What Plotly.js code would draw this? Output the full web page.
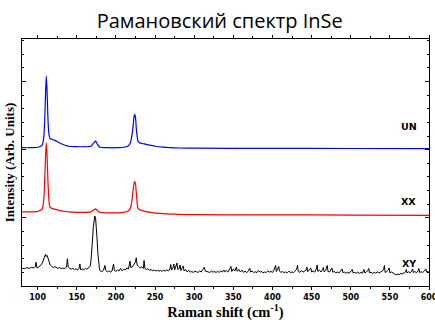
<!DOCTYPE html>
<html>
<head>
<meta charset="utf-8">
<script src="https://cdn.plot.ly/plotly-3.0.1.min.js"></script>
<style>html,body{margin:0;padding:0;background:#fff;}#chart{width:435px;height:324px;}</style>
</head>
<body>
<div id="chart"></div>
<script>
// Raman shift (cm^-1), intensity (arb. units, offset stacked)
const unSpectrum = [
[80,138],[90,138],[100,138.5],[104,139.5],[106,141],[108,150],[109,165],[110,190],[111,209.5],[112,195],[113,170],[114,155],[115,149],[116,147],[118,146.5],[120,146],[122,145.3],[125,144],[130,142],[135,140.5],[140,139.5],[150,139],[160,139],[165,139],[168,139.5],[170,141],[172,143],[174,144.5],[176,142],[178,139.5],[180,138.5],[190,138],[200,138],[210,138.5],[215,139.5],[218,142],[220,148],[222,160],[223,168],[224,171.2],[225,168],[226,158],[227,150],[228,145],[230,143],[235,142],[240,141],[245,140.3],[250,139.5],[260,138.5],[270,138],[280,137.7],[300,137.5],[400,137.3],[500,137.2],[600,137.1]
];
const xxSpectrum = [
[80,74],[90,74],[100,74.5],[104,75.5],[106,77],[108,88],[109,105],[110,128],[111,142.8],[112,130],[113,108],[114,90],[115,81],[116,78.5],[118,77.5],[120,77],[125,76],[130,75],[135,74.5],[140,74],[150,73.5],[160,73.5],[168,74],[170,75],[172,76],[174,77],[176,75.5],[178,74],[180,73.5],[190,73],[200,73],[210,73.5],[215,74.5],[218,77],[220,83],[222,96],[223,102],[224,104.5],[225,102],[226,93],[227,84],[228,78],[230,76],[235,75],[240,74],[245,73.5],[250,72.8],[260,72.3],[270,71.8],[280,71.5],[300,71.2],[400,71],[500,70.8],[600,70.5]
];
const xySpectrum = [
[80,17.8],[83,17.2],[86,18.3],[89,17.5],[92,18.6],[95,17.9],[97,19.5],[98,23.8],[99,18.2],[101,18.8],[103,20.2],[105,21.5],[107,25],[109,30],[110,31.5],[111,29.5],[112,30.5],[114,26],[116,21],[118,19.5],[120,18.5],[122,19.2],[124,18],[126,17.6],[128,18.4],[130,17.2],[132,17.9],[134,17.3],[136,18.2],[137,20],[138,27.2],[139,19],[141,17.5],[143,16.8],[145,17.6],[147,16.5],[149,17.2],[151,15.8],[153,17.8],[154,22],[155,16.2],[157,17],[159,16],[161,17.5],[163,16.8],[165,17.9],[167,19.5],[168,24],[169,32],[170,45],[171,58],[172,66],[173,69.8],[174,68],[175,60],[176,46],[177,32],[178,23],[179,17],[180,15],[182,14.2],[184,15.5],[186,20.5],[187,15.5],[189,14],[191,15.2],[193,13.8],[195,15],[197,22],[198,15.5],[200,14.5],[202,16],[204,15],[206,17.5],[208,15.2],[210,16.8],[212,16],[214,18],[216,17],[218,24.8],[219,18.5],[221,19],[223,21],[225,24],[226,28.2],[227,21],[229,19.5],[231,18],[233,19],[235,17.5],[236,25.5],[237,17.5],[239,16.5],[241,17.2],[243,15.8],[245,16.3],[247,15.2],[249,16],[251,15],[253,15.6],[255,14.8],[257,15.5],[259,14.6],[261,15.8],[263,14.9],[265,16],[267,15.2],[269,17],[270,21.5],[271,15.8],[273,18.5],[274,22],[275,16],[277,20],[278,23],[279,16.5],[281,17.5],[282,21],[283,15.5],[285,18.5],[286,20],[287,15],[289,16.5],[291,14],[293,15.8],[295,13.8],[297,14.5],[299,13.4],[301,15],[303,14.2],[305,13.6],[307,15.1],[309,14],[311,16.5],[313,18.8],[314,15],[316,14.8],[318,14],[320,13.5],[322,15],[324,13.8],[326,14.4],[328,13.5],[330,14.8],[332,13.4],[334,15.2],[336,14],[338,16],[339,14.2],[341,15.5],[343,13.8],[345,16.5],[347,19.5],[348,14.5],[350,17],[352,15],[354,19],[355,14.6],[357,16.5],[359,14],[361,15.8],[363,13.6],[365,14.8],[367,13.5],[369,14.6],[371,17.8],[372,14],[374,15],[376,13.4],[378,14.2],[380,13.3],[382,15.5],[384,13.8],[386,14.5],[388,13.2],[390,14],[392,13.5],[394,15],[396,13.8],[398,14.6],[400,13.5],[402,16],[404,20.5],[405,14.5],[407,18],[408,19.5],[409,14.8],[411,13.6],[413,14.5],[415,13.2],[417,14],[419,13.3],[421,14.8],[423,13.2],[425,14],[427,13.5],[429,15],[431,17],[432,20.5],[433,14.5],[435,13.6],[437,15.5],[439,13.8],[441,14.8],[443,16],[444,18.8],[445,14.2],[447,16],[449,18],[450,14],[452,15],[454,13.8],[456,17],[457,21],[458,14.5],[460,15.8],[462,14],[464,16.5],[465,18.5],[466,14.2],[468,15.5],[470,20.5],[471,14.5],[473,14],[475,16.5],[476,18],[477,13.8],[479,14.5],[481,13.2],[483,14],[485,13],[487,14.8],[489,17],[490,13.5],[492,13.8],[494,12.8],[496,13.6],[498,12.7],[500,14.2],[502,16.5],[503,13],[505,13.5],[507,12.8],[509,13.8],[511,12.6],[513,13.5],[515,12.8],[517,16.5],[518,13],[520,14],[522,15.5],[523,17.5],[524,13.2],[526,13.8],[528,12.6],[530,13.5],[532,12.8],[534,14],[536,13],[538,13.8],[540,14.5],[542,16],[543,20.5],[544,13.5],[546,14.5],[548,16],[549,18],[550,13.2],[552,14],[554,12.5],[556,12],[558,11.2],[560,11.8],[562,11.4],[564,12.5],[566,12],[568,13],[570,14],[571,16.5],[572,13],[574,14.2],[576,13.2],[578,15],[579,17],[580,13.5],[582,14.5],[584,13.2],[586,15],[587,17.5],[588,13.5],[590,14.2],[592,13.5],[594,15],[596,17],[597,13.8],[599,14.5],[600,13.5]
];
const seriesLabels = ['UN', 'XX', 'XY'];
const labelPos = [[574,159.5],[574,84],[574,22.5]];
const xTickVals = [100,150,200,250,300,350,400,450,500,550,600];

const xs = s => s.map(p => p[0]);
const ys = s => s.map(p => p[1]);

const traces = [
  {x: xs(unSpectrum), y: ys(unSpectrum), mode: 'lines', name: 'UN',
   line: {color: '#0000ff', width: 1.2, shape: 'spline', smoothing: 0.6}},
  {x: xs(xxSpectrum), y: ys(xxSpectrum), mode: 'lines', name: 'XX',
   line: {color: '#ff0000', width: 1.2, shape: 'spline', smoothing: 0.6}},
  {x: xs(xySpectrum), y: ys(xySpectrum), mode: 'lines', name: 'XY',
   line: {color: '#000000', width: 1}}
];

const layout = {
  width: 435, height: 324,
  margin: {l: 22, r: 6, t: 39, b: 38},
  paper_bgcolor: '#ffffff', plot_bgcolor: '#ffffff',
  showlegend: false,
  title: {text: 'Рамановский спектр InSe', font: {family: 'Open Sans', size: 20, color: '#000'},
          x: 0.505, xanchor: 'center', y: 0.935, yanchor: 'middle', yref: 'container'},
  xaxis: {
    range: [80, 600], tickvals: xTickVals, ticktext: xTickVals.map(v => '<b>' + v + '</b>'),
    ticklabeloverflow: 'allow',
    ticks: 'outside', ticklen: 3, tickwidth: 1, tickcolor: '#000',
    minor: {dtick: 25, tick0: 0, ticks: 'outside', ticklen: 2, tickcolor: '#000'},
    showline: true, linecolor: '#000', linewidth: 1, mirror: 'ticks',
    showgrid: false, zeroline: false,
    tickfont: {family: 'DejaVu Sans', size: 8, color: '#000', weight: 700},
    title: {text: '<b>Raman shift (cm<sup>-1</sup>)</b>', standoff: 4,
            font: {family: 'Liberation Serif, Times New Roman', size: 14.5, color: '#000'}}
  },
  yaxis: {
    range: [0, 246.5], showticklabels: false,
    tick0: 0, dtick: 68, ticks: 'inside', ticklen: 4, tickcolor: '#000',
    minor: {dtick: 13.6, ticks: 'inside', ticklen: 2, tickcolor: '#000'},
    showline: true, linecolor: '#000', linewidth: 1, mirror: 'ticks',
    showgrid: false, zeroline: false,
    title: {text: '<b>Intensity (Arb. Units)</b>', standoff: 3,
            font: {family: 'Liberation Serif, Times New Roman', size: 13, color: '#000'}}
  },
  annotations: seriesLabels.map((t, i) => ({
    x: labelPos[i][0], y: labelPos[i][1], xref: 'x', yref: 'y', text: '<b>' + t + '</b>',
    showarrow: false, font: {family: 'DejaVu Sans', size: 9.5, color: '#000', weight: 700}
  }))
};

Plotly.newPlot('chart', traces, layout, {staticPlot: true, displayModeBar: false});
</script>
</body>
</html>
